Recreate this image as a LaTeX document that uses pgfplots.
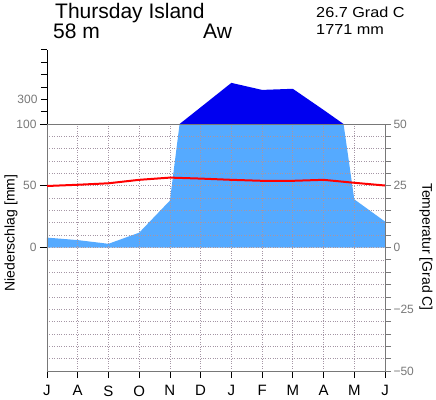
\documentclass[border=0pt]{standalone}
\usepackage{pgfplots}
\pgfplotsset{compat=1.18}
\usepackage{pgfplotstable}
\usepackage{fontspec}
\setmainfont{Liberation Sans}
\definecolor{lblue}{RGB}{85,170,255}
\definecolor{dblue}{RGB}{0,0,240}
\definecolor{framegray}{RGB}{120,120,120}
\definecolor{gridgray}{RGB}{165,150,165}
% monthly precipitation (mm), July ... June
\pgfplotstableread{
m P
0 8
1 6
2 3
3 12
4 38
5 235
6 433
7 376
8 385
9 214
10 39
11 21
}\precip
% part above 100 mm (crossings at 100 mm)
\pgfplotstableread{
m P
4.315 100
5 235
6 433
7 376
8 385
9 214
9.651 100
}\excess
% monthly temperature (deg C), July ... June
\pgfplotstableread{
m T
0 24.9
1 25.4
2 26.0
3 27.4
4 28.3
5 27.9
6 27.4
7 27.0
8 27.0
9 27.4
10 26.2
11 25.1
}\temp
\begin{document}
\begin{tikzpicture}
\useasboundingbox (-47pt,-28pt) rectangle (389pt,371pt);
% main box, precipitation (left)
\begin{axis}[
  at={(0pt,0pt)}, anchor=south west,
  scale only axis, width=338pt, height=247pt,
  xmin=0, xmax=11, ymin=-100, ymax=100,
  axis on top,
  axis line style={framegray, line width=0.8pt},
  xtick={0,...,11},
  xticklabels={J,A,S,O,N,D,J,F,M,A,M,J},
  xtick pos=bottom,
  ytick={0,50,100},
  yticklabels={0,50,100},
  ytick pos=left,
  minor ytick={-90,-80,...,90},
  tick align=outside,
  major tick length=7pt,
  minor tick length=0pt,
  xmajorgrids, yminorgrids,
  major grid style={gridgray, dotted, line width=0.7pt},
  minor grid style={gridgray, dotted, line width=0.7pt},
  tick style={black, line width=0.8pt},
  xticklabel style={font=\fontsize{15}{15}\selectfont, black, yshift=-4pt},
  yticklabel style={font=\fontsize{12}{12}\selectfont, framegray},
]
\addplot[fill=lblue, draw=none] table[x=m, y=P] {\precip} \closedcycle;
\end{axis}
% temperature (right)
\begin{axis}[
  at={(0pt,0pt)}, anchor=south west,
  scale only axis, width=338pt, height=247pt,
  xmin=0, xmax=11, ymin=-50, ymax=50,
  axis y line*=right, axis x line=none,
  axis line style={framegray, line width=0.8pt, -},
  ytick={-50,-45,...,50},
  yticklabels={−50,,,,,−25,,,,,0,,,,,25,,,,,50},
  tick align=outside,
  major tick length=6pt,
  tick style={framegray, line width=0.8pt},
  yticklabel style={font=\fontsize{12}{12}\selectfont, framegray, xshift=-1pt},
]
\addplot[red, line width=2pt] table[x=m, y=T] {\temp};
\end{axis}
% upper part, above 100 mm at 1/10 scale
\begin{axis}[
  at={(0pt,247pt)}, anchor=south west,
  scale only axis, width=338pt, height=74.1pt,
  xmin=0, xmax=11, ymin=100, ymax=160,
  axis y line=left, axis x line=none,
  axis line style={black, line width=0.8pt, -},
  ytick={100,110,...,160},
  yticklabels={,,300,,,,},
  tick align=outside,
  major tick length=6pt,
  tick style={black, line width=0.8pt},
  yticklabel style={font=\fontsize{12}{12}\selectfont, framegray},
]
\addplot[fill=dblue, draw=none] table[x=m, y expr={100+(\thisrow{P}-100)/10}] {\excess};
\end{axis}
\node[anchor=base west, inner sep=0pt, font=\fontsize{21}{21}\selectfont] at (8pt,352.7pt) {Thursday Island};
\node[anchor=base west, inner sep=0pt, font=\fontsize{21}{21}\selectfont] at (6pt,332.7pt) {58 m};
\node[anchor=base west, inner sep=0pt, font=\fontsize{21}{21}\selectfont] at (156pt,332.7pt) {Aw};
\node[anchor=base west, inner sep=0pt, xscale=1.12, font=\fontsize{14.5}{14.5}\selectfont] at (269pt,353.7pt) {26.7 Grad C};
\node[anchor=base west, inner sep=0pt, xscale=1.12, font=\fontsize{14.5}{14.5}\selectfont] at (269pt,336.7pt) {1771 mm};
\node[rotate=90, inner sep=0pt, font=\fontsize{14}{14}\selectfont] at (-36pt,138pt) {Niederschlag [mm]};
\node[rotate=-90, inner sep=0pt, font=\fontsize{14}{14}\selectfont] at (379pt,124pt) {Temperatur [Grad C]};
\end{tikzpicture}
\end{document}
